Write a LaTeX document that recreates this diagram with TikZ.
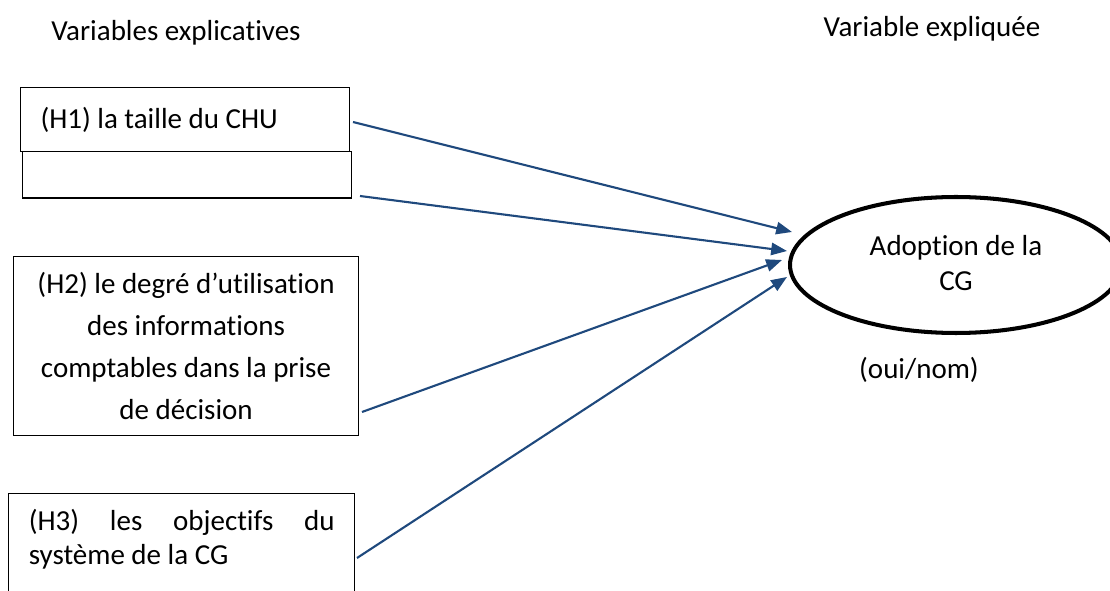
\documentclass[tikz,border=0pt]{standalone}
\usepackage{fontspec}
\setmainfont{Carlito}[Ligatures=NoCommon]
\usetikzlibrary{shapes.geometric,arrows.meta}
\definecolor{arrowblue}{RGB}{31,73,125}
\hyphenpenalty=10000
\exhyphenpenalty=10000
\begin{document}
\begin{tikzpicture}[x=0.02cm,y=-0.02cm,line width=.6pt,
    every node/.style={font=\fontsize{16.5}{20}\selectfont},
    var/.style={draw,rectangle,anchor=north west,inner ysep=0pt,inner xsep=.4cm},
    link/.style={draw=arrowblue,line width=1.2pt,-{Triangle[length=9pt,width=7pt]}}]
  \useasboundingbox (0,0) rectangle (1110,591);

  \node (lhead) at (176,33) {Variables explicatives};
  \node (rhead) at (932,29) {Variable expliquée};

  \node[var,text width=5.78cm,minimum height=1.28cm,align=flush left] (H1) at (20,87) {(H1) la taille du CHU};
  \node[var,minimum width=6.59cm,minimum height=.93cm,inner sep=0pt] (H1b) at (21.7,151) {};
  \node[var,inner xsep=.2cm,text width=6.49cm,minimum height=3.58cm,align=flush center,
    font=\fontsize{16.5}{24}\selectfont] (H2) at (13.3,256)
    {(H2) le degré d’utilisation\\des informations\\comptables dans la prise\\de décision};
  \node[var,text width=6.12cm,inner ysep=.3cm,text depth=3cm,align=justify,
    font=\fontsize{16.5}{19.5}\selectfont] (H3) at (8.3,493.3)
    {(H3) les objectifs du système de la CG};

  \node[draw,ellipse,line width=2.3pt,minimum width=6.64cm,minimum height=2.72cm,
    inner sep=0pt,align=flush center] (CG) at (956,265) {Adoption de la\\CG\vphantom{p}};
  \node (yn) at (919,370) {(oui/nom)};

  \coordinate (s1) at (353,122);
  \coordinate (s2) at (360,196);
  \coordinate (s3) at (362,412);
  \coordinate (s4) at (357,558);
  \coordinate (t1) at (792,232);
  \coordinate (t2) at (787,251);
  \coordinate (t3) at (782,260);
  \coordinate (t4) at (787,277);

  \draw[link] (s1) -- (t1);
  \draw[link] (s2) -- (t2);
  \draw[link] (s3) -- (t3);
  \draw[link] (s4) -- (t4);
\end{tikzpicture}
\end{document}
